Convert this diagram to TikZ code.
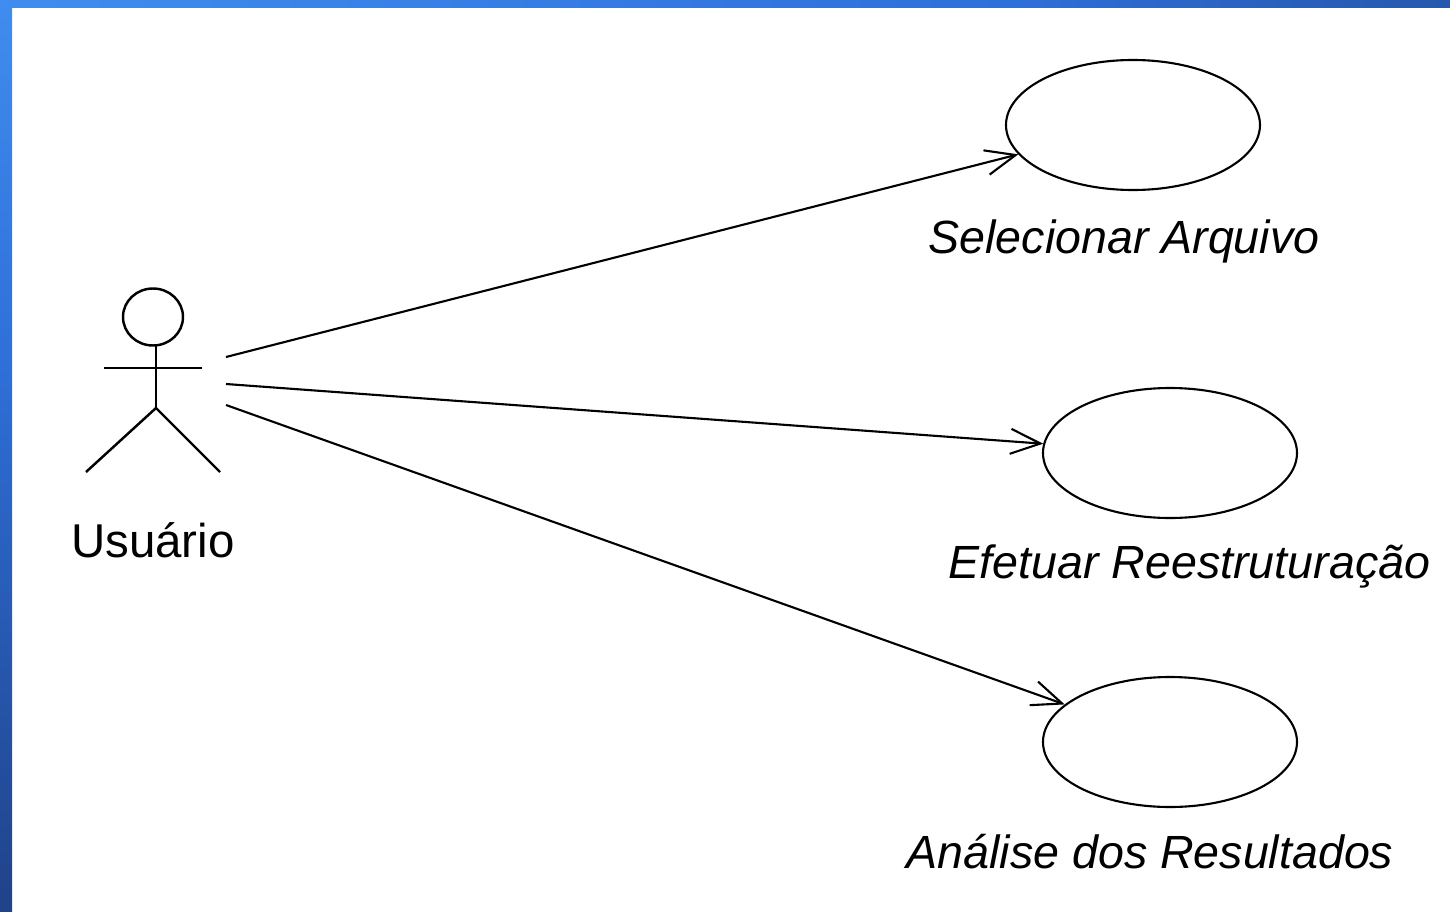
\documentclass[tikz,border=0pt]{standalone}
\usepackage{fontspec}
\setmainfont{Liberation Sans}
\usepackage{tikz}
\usetikzlibrary{arrows.meta, positioning, shapes.geometric}
\usepackage{xcolor}

\definecolor{barlight}{HTML}{4CA2FF}
\definecolor{barmid}{HTML}{2E6FD8}
\definecolor{bardark}{HTML}{141E48}
\pgfdeclarehorizontalshading{topbar}{100bp}{color(0bp)=(barlight); color(60bp)=(barmid); color(85bp)=(barmid!50!bardark); color(100bp)=(bardark)}
\pgfdeclareverticalshading{leftbar}{100bp}{color(0bp)=(bardark); color(25bp)=(barmid!45!bardark); color(55bp)=(barmid); color(90bp)=(barlight); color(100bp)=(barlight)}

\begin{document}
\begin{tikzpicture}[
    usecase/.style={ellipse, draw, line width=1.2pt, minimum width=5.08cm, minimum height=2.6cm, inner sep=0pt},
    uclabel/.style={anchor=base, font=\fontsize{26.5}{30}\selectfont\itshape, inner sep=0pt},
    actorline/.style={line width=1.4pt},
    arr/.style={-{Straight Barb[length=0.6cm, width=0.5cm]}, line width=1.2pt}
]
    \useasboundingbox (0,0) rectangle (29,-18.24);

    % moldura
    \shade[shading=topbar] (0,0) rectangle (29,-0.14);
    \shade[shading=leftbar] (0,-0.14) rectangle (0.24,-18.24);

    % ator
    \draw[actorline] (3.06,-6.34) circle [x radius=0.6cm, y radius=0.57cm];
    \draw[actorline] (3.12,-6.91) -- (3.12,-8.16);
    \draw[actorline] (2.08,-7.36) -- (4.04,-7.36);
    \draw[actorline] (1.72,-9.44) -- (3.12,-8.16) -- (4.40,-9.44);
    \node[anchor=base, inner sep=0pt, font=\fontsize{27}{32}\selectfont] (usuario) at (3.06,-11.14) {Usuário};

    \coordinate (a1) at (4.52,-7.14);
    \coordinate (a2) at (4.52,-7.68);
    \coordinate (a3) at (4.52,-8.10);

    % casos de uso
    \node[usecase] (selecionar) at (22.66,-2.50) {};
    \node[usecase] (efetuar) at (23.40,-9.06) {};
    \node[usecase] (analise) at (23.40,-14.84) {};

    \node[uclabel] (lblselecionar) at (22.48,-5.06) {Selecionar Arquivo};
    \node[uclabel] (lblefetuar) at (23.79,-11.56) {Efetuar Reestruturação};
    \node[uclabel] (lblanalise) at (23.00,-17.36) {Análise dos Resultados};

    % associacoes
    \draw[arr] (a1) -- (selecionar);
    \draw[arr] (a2) -- (efetuar);
    \draw[arr] (a3) -- (analise);

\end{tikzpicture}
\end{document}
